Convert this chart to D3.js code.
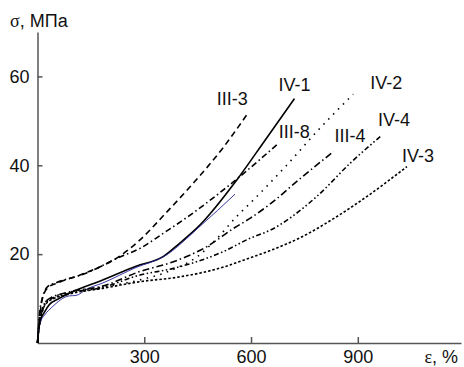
<!DOCTYPE html>
<html>
<head>
  <meta charset="utf-8">
  <title>σ–ε</title>
  <style>
    body { margin: 0; background: #fff; }
    svg { display: block; font-family: "Liberation Sans", Arial, sans-serif; }
    .axis path, .axis line { stroke: #555; stroke-width: 1.5; }
    .axis text { font-size: 18px; fill: #111; }
    .serif { font-family: "Liberation Serif", "Times New Roman", serif; }
  </style>
</head>
<body>
  <svg id="chart"></svg>

  <script src="https://d3js.org/d3.v7.min.js"></script>
  <script>
    // размеры
    const width = 464;
    const height = 367;

    // данные (ε, % и σ, МПа для каждого образца)
    const seriesNames = ["III-3", "III-8", "IV-1", "blue", "IV-2", "III-4", "IV-4", "IV-3"];

    const strainIII3 = [0, 5, 15, 30, 60, 136, 230, 288, 360, 438, 520, 591];
    const stressIII3 = [0, 5, 10.4, 12.5, 13.6, 15.8, 19.5, 23.2, 29.2, 36, 43.8, 51.7];

    const strainIII8 = [0, 5, 15, 30, 50, 136, 230, 288, 350, 429, 551, 675];
    const stressIII8 = [0, 6, 10.5, 12.8, 13.5, 15.7, 19.3, 21.3, 24.5, 28.8, 36.3, 44.8];

    const strainIV1 = [0, 3, 10, 20, 33, 60, 89, 183, 277, 354, 400, 457, 560, 640, 722];
    const stressIV1 = [0, 3, 5.5, 7, 8.6, 10, 11.2, 14.2, 17.3, 19.5, 22.5, 26.6, 36.7, 45.7, 55];

    const strainBlue = [0, 3, 10, 20, 40, 89, 108, 140, 183, 277, 354, 457, 555];
    const stressBlue = [0, 2.5, 5, 6.3, 8, 10.6, 10.7, 12.2, 13.5, 17, 19.4, 26.3, 33.5];

    const strainIV2 = [0, 5, 15, 30, 89, 183, 277, 380, 450, 504, 560, 598, 700, 785, 887];
    const stressIV2 = [0, 4, 8, 9.8, 11.4, 12.6, 14, 16.5, 19.5, 23.5, 28.5, 31.5, 40, 47.6, 56];

    const strainIII4 = [0, 5, 15, 30, 89, 183, 288, 382, 476, 551, 598, 654, 738, 832];
    const stressIII4 = [0, 4, 8, 9.8, 11.5, 12.8, 16.1, 18.3, 21.7, 25.8, 28.1, 31.3, 37, 43.1];

    const strainIV4 = [0, 5, 15, 30, 89, 183, 288, 382, 523, 598, 654, 785, 879, 968];
    const stressIV4 = [0, 4, 7.5, 9.5, 11.2, 12.5, 15.3, 16.8, 20.6, 23.6, 25.4, 33, 40.5, 46.8];

    const strainIV3 = [0, 5, 15, 30, 89, 183, 288, 401, 523, 598, 654, 738, 832, 926, 1038];
    const stressIV3 = [0, 4, 7.5, 9.3, 11, 12.3, 13.8, 14.9, 17.1, 19.2, 20.8, 23.7, 28, 33, 39.7];

    const xTicks = [300, 600, 900];
    const yTicks = [20, 40, 60];

    const strains = [strainIII3, strainIII8, strainIV1, strainBlue, strainIV2, strainIII4, strainIV4, strainIV3];
    const stresses = [stressIII3, stressIII8, stressIV1, stressBlue, stressIV2, stressIII4, stressIV4, stressIV3];

    // стиль линий и смещение подписей от конца кривой
    const styles = {
      "III-3": { dash: "6,4", color: "#000", w: 1.6, dx: -31, dy: -8 },
      "III-8": { dash: "6,3,1.5,3", color: "#000", w: 1.6, dx: 1, dy: -6 },
      "IV-1":  { dash: null, color: "#000", w: 1.6, dx: -16, dy: -8 },
      "blue":  { dash: null, color: "#22229a", w: 0.9, label: false },
      "IV-2":  { dash: "1.5,5.5", color: "#000", w: 1.6, dx: 17, dy: -5 },
      "III-4": { dash: "7,3,1.5,3", color: "#000", w: 1.6, dx: 1, dy: -10 },
      "IV-4":  { dash: "5,2.5,1.5,2.5,1.5,2.5", color: "#000", w: 1.6, dx: -4, dy: -9 },
      "IV-3":  { dash: "2.5,2", color: "#000", w: 1.6, dx: -5, dy: -5 }
    };

    const svg = d3.select("#chart")
      .attr("width", width)
      .attr("height", height);

    const x = d3.scaleLinear().domain([0, 1190]).range([37.5, 461]);
    const y = d3.scaleLinear().domain([0, 70]).range([343, 32]);

    // оси
    svg.append("g")
      .attr("class", "axis")
      .attr("transform", `translate(0,${y(0)})`)
      .call(d3.axisBottom(x).tickValues(xTicks).tickSizeInner(-6).tickSizeOuter(0).tickPadding(7));

    svg.append("g")
      .attr("class", "axis")
      .attr("transform", `translate(${x(0)},0)`)
      .call(d3.axisLeft(y).tickValues(yTicks).tickSizeInner(-5).tickSizeOuter(0).tickPadding(8));

    // подписи осей
    const yl = svg.append("text").attr("x", 10).attr("y", 27).style("font-size", "18px").attr("fill", "#111");
    yl.append("tspan").attr("class", "serif").text("σ");
    yl.append("tspan").text(", МПа");

    const xl = svg.append("text").attr("x", 458).attr("y", 363).attr("text-anchor", "end")
      .style("font-size", "18px").attr("fill", "#111");
    xl.append("tspan").attr("class", "serif").text("ε");
    xl.append("tspan").text(", %");

    const line = d3.line()
      .x(d => x(d[0]))
      .y(d => y(d[1]))
      .curve(d3.curveMonotoneX);

    // кривые
    seriesNames.forEach((name, i) => {
      const pts = strains[i].map((s, j) => [s, stresses[i][j]]);
      const st = styles[name];
      svg.append("path")
        .datum(pts)
        .attr("d", line)
        .attr("fill", "none")
        .attr("stroke", st.color)
        .attr("stroke-width", st.w)
        .attr("stroke-dasharray", st.dash);

      if (st.label !== false) {
        const last = pts[pts.length - 1];
        svg.append("text")
          .attr("x", x(last[0]) + st.dx)
          .attr("y", y(last[1]) + st.dy)
          .style("font-size", "18px")
          .attr("fill", "#111")
          .text(name);
      }
    });
  </script>
</body>
</html>
